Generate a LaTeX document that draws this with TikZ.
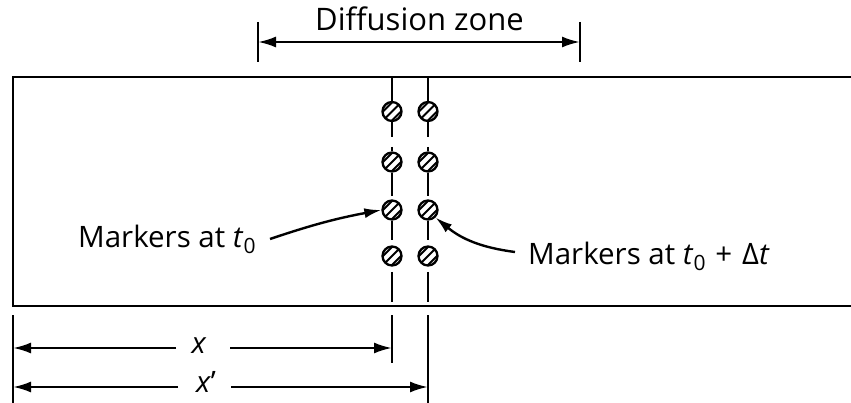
\documentclass[tikz,border=0pt]{standalone}
\usepackage{fontspec}
\setmainfont{Open Sans}
\usetikzlibrary{arrows.meta}
\newcommand\subz{\raisebox{-0.35ex}{\fontsize{21}{21}\selectfont 0}}
\begin{document}
\begin{tikzpicture}[x=1pt,y=-1pt,line width=2.4pt,
  lbl/.style={inner sep=0pt,font=\fontsize{29.5}{34}\selectfont},
  tip/.style={-{Latex[length=17pt,width=10pt]}},
  dimtip/.style={-{Latex[length=18pt,width=11pt]}},
  marker/.style={circle,draw,line width=2.3pt,minimum size=19pt,inner sep=0pt,
    path picture={
      \draw[line width=1.9pt] ([shift={(-12,12)}]path picture bounding box.center) -- ++(24,-24);
      \draw[line width=1.9pt] ([shift={(-12-4.5,12-4.5)}]path picture bounding box.center) -- ++(24,-24);
      \draw[line width=1.9pt] ([shift={(-12+4.5,12+4.5)}]path picture bounding box.center) -- ++(24,-24);
    }}]
\useasboundingbox (0,0) rectangle (851,403);

% specimen bar
\draw (855,77) -- (13,77) -- (13,306) -- (855,306);

% markers
\foreach \c/\x in {a/392,b/428}{
  \node[marker] (\c1) at (\x,111.5) {};
  \node[marker] (\c2) at (\x,162) {};
  \node[marker] (\c3) at (\x,210) {};
  \node[marker] (\c4) at (\x,256) {};
  \coordinate (\c top) at (\x,77);
  \coordinate (\c g1) at (\x,137);
  \coordinate (\c g2) at (\x,147);
  \coordinate (\c g3) at (\x,196);
  \coordinate (\c g4) at (\x,240);
  \coordinate (\c g5) at (\x,272);
  \coordinate (\c g6) at (\x,302);
  \coordinate (\c g7) at (\x,315);
  \draw (\c top) -- (\c1.north);
  \draw (\c1.south) -- (\c g1);
  \draw (\c g2) -- (\c2.north);
  \draw (\c2.south) -- (\c g3);
  \draw (\c3.south) -- (\c g4);
  \draw (\c g5) -- (\c g6);
}
\coordinate (aend) at (392,363);
\coordinate (bend) at (428,405);
\draw (ag7) -- (aend);
\draw (bg7) -- (bend);

% left reference line
\coordinate (l1) at (13,315);
\coordinate (l2) at (13,405);
\draw (l1) -- (l2);

% x dimension
\node[lbl,anchor=base] (xl) at (199,353) {\textit{x}};
\coordinate (xL) at (13,348);
\coordinate (xR) at (392,348);
\coordinate (xa) at (176,348);
\coordinate (xb) at (230,348);
\draw[dimtip] (xa) -- (xL);
\draw[dimtip] (xb) -- (xR);

% x' dimension
\node[lbl,anchor=base] (xpl) at (206,392) {\textit{x}\textquoteright};
\coordinate (xpL) at (13,387);
\coordinate (xpR) at (428,387);
\coordinate (xpa) at (178,387);
\coordinate (xpb) at (231,387);
\draw[dimtip] (xpa) -- (xpL);
\draw[dimtip] (xpb) -- (xpR);

% diffusion zone
\coordinate (dzL1) at (258,22);
\coordinate (dzL2) at (258,62);
\coordinate (dzR1) at (580,22);
\coordinate (dzR2) at (580,62);
\draw (dzL1) -- (dzL2);
\draw (dzR1) -- (dzR2);
\coordinate (dzL) at (258,42);
\coordinate (dzR) at (580,42);
\draw[{Latex[length=18pt,width=11pt]}-{Latex[length=18pt,width=11pt]}] (dzL) -- (dzR);
\node[lbl,anchor=base,font=\fontsize{31}{36}\selectfont] (dz) at (419.5,31) {Diffusion zone};

% marker labels
\node[lbl,anchor=base west] (m0) at (77,248) {Markers at \textit{t}\subz};
\node[lbl,anchor=base west] (m1) at (527,265) {Markers at \textit{t}\subz\,\,+\,\,Δ\textit{t}};
\coordinate (m0s) at (270,239);
\coordinate (m1s) at (515,252);
\draw[tip] (m0s) to[bend left=4] (a3.west);
\draw[tip] (m1s) to[bend left=16] (b3.south east);
\end{tikzpicture}
\end{document}
